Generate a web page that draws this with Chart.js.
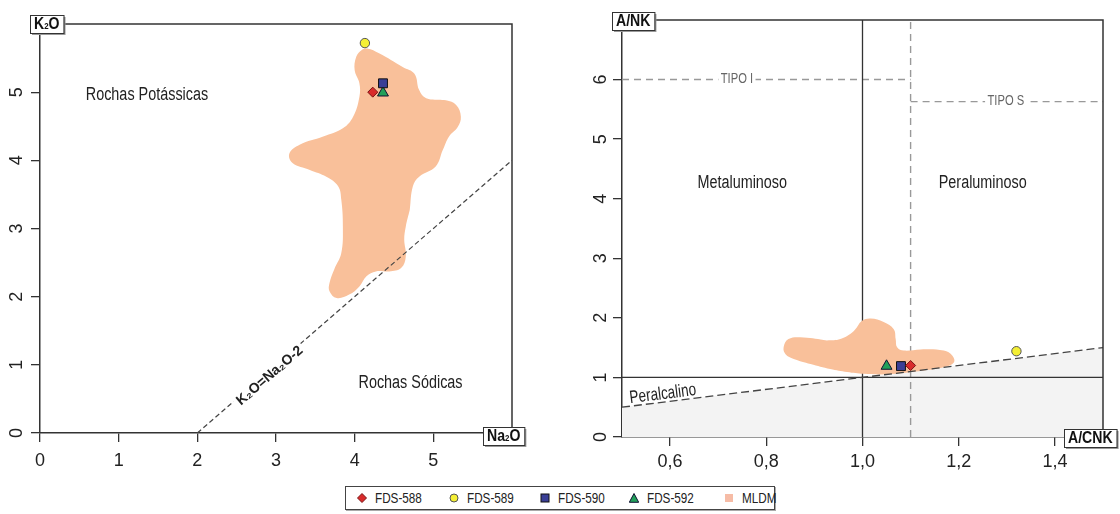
<!DOCTYPE html>
<html>
<head>
<meta charset="utf-8">
<script src="https://cdn.jsdelivr.net/npm/chart.js@4.4.0/dist/chart.umd.min.js"></script>
<style>
  body { margin: 0; background: #fff; width: 1120px; height: 514px; position: relative; overflow: hidden;
         font-family: 'Liberation Sans', Arial, sans-serif; }
  #left { position: absolute; left: 0; top: 0; }
  #right { position: absolute; left: 560px; top: 0; }
  #legend { position: absolute; left: 345px; top: 486px; width: 428px; height: 22px;
            border: 1px solid #444; box-shadow: 1px 1px 0 #aaa; background: #fff; }
  #legend .mk { position: absolute; top: 6px; width: 10px; height: 10px; }
  #legend .tx { position: absolute; top: 2px; font-size: 15px; line-height: 18px; color: #222;
                transform: scaleX(0.78); transform-origin: left center; white-space: nowrap; }
</style>
</head>
<body>
<canvas id="left" width="560" height="480"></canvas>
<canvas id="right" width="560" height="480"></canvas>
<div id="legend"></div>
<script>
// tick labels
const naTicks = [0, 1, 2, 3, 4, 5];
const kTicks = [0, 1, 2, 3, 4, 5];
const acnkTicks = [0.6, 0.8, 1.0, 1.2, 1.4];
const ankTicks = [0, 1, 2, 3, 4, 5, 6];

// samples
const sampleNames = ['FDS-588', 'FDS-589', 'FDS-590', 'FDS-592'];
const sampleNa = [4.23, 4.13, 4.36, 4.36];
const sampleK = [5.00, 5.72, 5.13, 4.99];
const sampleACNK = [1.10, 1.32, 1.08, 1.05];
const sampleANK = [1.20, 1.44, 1.19, 1.19];

// MLDM field (outline)
const mldmNa = [4.70, 4.65, 4.63, 4.65, 4.59, 4.44, 4.27, 4.15, 4.06, 3.93, 3.77, 3.68, 3.68, 3.74, 3.83, 3.85,
  3.83, 3.79, 3.64, 3.43, 3.21, 3.17, 3.30, 3.60, 3.85, 3.98, 4.06, 4.06, 4.00, 4.02, 4.09, 4.16, 4.31, 4.61,
  4.76, 4.82, 4.91, 5.16, 5.29, 5.35, 5.31, 5.20, 5.12, 5.03, 4.82, 4.74, 4.70];
const mldmK = [3.27, 3.03, 2.84, 2.59, 2.42, 2.37, 2.37, 2.30, 2.15, 2.03, 1.98, 2.08, 2.20, 2.40, 2.64, 3.03,
  3.42, 3.62, 3.76, 3.86, 3.96, 4.10, 4.23, 4.35, 4.47, 4.64, 4.93, 5.13, 5.32, 5.52, 5.62, 5.64, 5.57, 5.37,
  5.27, 5.03, 4.91, 4.88, 4.81, 4.64, 4.49, 4.35, 4.15, 3.91, 3.76, 3.62, 3.27];
const mldmACNK = [0.926, 0.954, 0.982, 0.999, 1.017, 1.044, 1.065, 1.069, 1.072, 1.086, 1.121, 1.169, 1.187,
  1.190, 1.169, 1.121, 1.051, 1.003, 0.968, 0.933, 0.892, 0.857, 0.840, 0.836, 0.846, 0.878, 0.926];
const mldmANK = [1.62, 1.645, 1.78, 1.95, 1.99, 1.93, 1.81, 1.645, 1.506, 1.45, 1.47, 1.45, 1.365,
  1.25, 1.17, 1.11, 1.055, 1.06, 1.09, 1.14, 1.225, 1.31, 1.39, 1.506, 1.645, 1.67, 1.62];

// K2O = Na2O - 2
const sodicNa = [2, 6];
const sodicK = [0, 4];

// A/NK = A/CNK (peralcalino limit)
const peralkX = [0.5, 1.5];
const peralkY = [0.5, 1.5];
// other limits
const metaX = [1.0, 1.0], metaY = [0, 7];
const ankOneX = [0.5, 1.5], ankOneY = [1, 1];
const typeX = [1.1, 1.1], typeY = [0, 7];
const tipoIX = [0.5, 1.1], tipoIY = [6, 6];
const tipoSX = [1.1, 1.5], tipoSY = [5.63, 5.63];

const FONT = "'Liberation Sans', Arial, sans-serif";
const TICKFONT = "'Liberation Sans Narrow', 'Liberation Sans', Arial, sans-serif";
const SX = 0.8;
const mldmColor = '#f9c09a';
const markers = [
  { style: 'rectRot', r: 5, fill: '#d92b2b', edge: '#7a1414' },
  { style: 'circle', r: 4.7, fill: '#f4ef35', edge: '#555' },
  { style: 'rect', r: 6.3, fill: '#3a3f96', edge: '#111' },
  { style: 'triangle', r: 6.3, fill: '#22a05a', edge: '#113' }
];

Chart.defaults.font.family = FONT;

function pts(xs, ys) {
  return xs.map(function (x, i) { return { x: x, y: ys[i] }; });
}

function lineSet(xs, ys, color, width, dash, order) {
  return {
    type: 'line', data: pts(xs, ys), borderColor: color, borderWidth: width,
    borderDash: dash || [], pointRadius: 0, fill: false, tension: 0, order: order
  };
}

function blobSet(xs, ys) {
  return {
    type: 'line', label: 'MLDM', data: pts(xs, ys), backgroundColor: mldmColor,
    borderWidth: 0, pointRadius: 0, fill: 'shape', tension: 0.4, order: 2
  };
}

function sampleSets(xs, ys) {
  return sampleNames.map(function (name, i) {
    const m = markers[i];
    return {
      label: name, data: [{ x: xs[i], y: ys[i] }], pointStyle: m.style, pointRadius: m.r,
      backgroundColor: m.fill, borderColor: m.edge, borderWidth: 1, order: 0
    };
  });
}

function axis(min, max, ticks, fmt, fit, pad, vertical) {
  const o = {
    type: 'linear', min: min, max: max, z: 1,
    afterBuildTicks: function (s) { s.ticks = ticks.map(function (v) { return { value: v }; }); },
    afterFit: function (s) { if (vertical) s.width = fit; else s.height = fit; },
    ticks: { font: { family: TICKFONT, size: 18 }, color: '#222', padding: pad, callback: fmt },
    grid: { drawOnChartArea: false, drawTicks: true, tickLength: 9, color: '#333', lineWidth: 1.3 },
    border: { display: true, color: '#333', width: 1.5 }
  };
  if (vertical) {
    o.ticks.minRotation = 90;
    o.ticks.maxRotation = 90;
    o.ticks.crossAlign = 'center';
  }
  return o;
}

// boxed axis names, e.g. K2O with a small 2
function drawTag(ctx, parts, x, y) {
  const h = 18, sx = 0.88;
  ctx.save();
  let w = 0;
  parts.forEach(function (p) {
    ctx.font = p.sub ? 'bold 9px ' + FONT : 'bold 16px ' + FONT;
    p.w = ctx.measureText(p.t).width * sx;
    w += p.w;
  });
  const bw = w + 8;
  ctx.fillStyle = '#999';
  ctx.fillRect(x + 2, y + 2, bw, h);
  ctx.fillStyle = '#fff';
  ctx.fillRect(x, y, bw, h);
  ctx.strokeStyle = '#333';
  ctx.lineWidth = 1;
  ctx.strokeRect(x + 0.5, y + 0.5, bw, h);
  let cx = x + 4;
  parts.forEach(function (p) {
    ctx.save();
    ctx.translate(cx, y + h - 4);
    ctx.scale(sx, 1);
    ctx.font = p.sub ? 'bold 9px ' + FONT : 'bold 16px ' + FONT;
    ctx.fillStyle = '#111';
    ctx.textBaseline = 'alphabetic';
    ctx.fillText(p.t, 0, 0);
    ctx.restore();
    cx += p.w;
  });
  ctx.restore();
}

function decor(cfg) {
  return {
    id: 'decor',
    afterDatasetsDraw: function (chart) {
      const ctx = chart.ctx, xs = chart.scales.x, ys = chart.scales.y;
      cfg.labels.forEach(function (l) {
        let rot = 0;
        if (l.along) {
          const a = l.along;
          rot = Math.atan2(ys.getPixelForValue(a[3]) - ys.getPixelForValue(a[1]),
            xs.getPixelForValue(a[2]) - xs.getPixelForValue(a[0]));
        }
        ctx.save();
        ctx.translate(xs.getPixelForValue(l.x), ys.getPixelForValue(l.y));
        ctx.rotate(rot);
        ctx.scale(l.sx, 1);
        ctx.font = l.font;
        ctx.textAlign = 'center';
        ctx.textBaseline = 'middle';
        if (l.bg) {
          const w = ctx.measureText(l.text).width;
          ctx.fillStyle = '#fff';
          ctx.fillRect(-w / 2 - 3, -l.bg / 2, w + 6, l.bg);
        }
        ctx.fillStyle = l.color;
        ctx.fillText(l.text, 0, 0);
        ctx.restore();
      });
    },
    afterDraw: function (chart) {
      const ctx = chart.ctx, a = chart.chartArea;
      ctx.save();
      ctx.strokeStyle = '#333';
      ctx.lineWidth = 1.5;
      ctx.beginPath();
      ctx.moveTo(a.left, a.top);
      ctx.lineTo(a.right, a.top);
      ctx.lineTo(a.right, a.bottom);
      ctx.stroke();
      ctx.restore();
      cfg.tags.forEach(function (t) {
        const x = (t.at === 'tl' ? a.left : a.right) + t.dx;
        const y = (t.at === 'tl' ? a.top : a.bottom) + t.dy;
        drawTag(ctx, t.parts, x, y);
      });
    }
  };
}

const common = {
  responsive: false, animation: false, events: [],
  plugins: { legend: { display: false }, tooltip: { enabled: false } }
};

// left: K2O x Na2O
new Chart(document.getElementById('left'), {
  type: 'scatter',
  data: {
    datasets: sampleSets(sampleNa, sampleK).concat([
      lineSet(sodicNa, sodicK, '#444', 1.2, [5, 3], 1),
      blobSet(mldmNa, mldmK)
    ])
  },
  options: Object.assign({}, common, {
    layout: { padding: { left: 0, top: 24, right: 48, bottom: 0 } },
    scales: {
      x: axis(0, 6, naTicks, function (v) { return String(v); }, 47, 8, false),
      y: axis(0, 6, kTicks, function (v) { return String(v); }, 40, 9, true)
    }
  }),
  plugins: [decor({
    labels: [
      { text: 'Rochas Potássicas', x: 1.36, y: 4.96, font: '18px ' + FONT, sx: SX, color: '#222' },
      { text: 'Rochas Sódicas', x: 4.71, y: 0.74, font: '18px ' + FONT, sx: SX, color: '#222' },
      { text: 'K₂O=Na₂O-2', x: 2.92, y: 0.84, along: [2, 0, 6, 4], font: 'bold 14px ' + FONT, sx: 1, color: '#222', bg: 15 }
    ],
    tags: [
      { at: 'tl', dx: -10, dy: -9, parts: [{ t: 'K' }, { t: '2', sub: true }, { t: 'O' }] },
      { at: 'br', dx: -29, dy: -6, parts: [{ t: 'Na' }, { t: '2', sub: true }, { t: 'O' }] }
    ]
  })]
});

// right: A/NK x A/CNK
new Chart(document.getElementById('right'), {
  type: 'scatter',
  data: {
    datasets: sampleSets(sampleACNK, sampleANK).concat([
      lineSet(peralkX, peralkY, '#444', 1.3, [8, 4], 1),
      blobSet(mldmACNK, mldmANK),
      lineSet(metaX, metaY, '#333', 1.3, null, 3),
      lineSet(ankOneX, ankOneY, '#333', 1.3, null, 3),
      lineSet(typeX, typeY, '#999', 1.4, [7, 5], 3),
      lineSet(tipoIX, tipoIY, '#999', 1.4, [7, 5], 3),
      lineSet(tipoSX, tipoSY, '#999', 1.4, [7, 5], 3),
      {
        type: 'line', data: pts(peralkX, peralkY), borderWidth: 0, pointRadius: 0,
        backgroundColor: '#f3f3f3', fill: 'origin', order: 4
      }
    ])
  },
  options: Object.assign({}, common, {
    layout: { padding: { left: 0, top: 20, right: 17, bottom: 0 } },
    scales: {
      x: axis(0.5, 1.5, acnkTicks, function (v) { return v.toFixed(1).replace('.', ','); }, 43, 5, false),
      y: axis(0, 7, ankTicks, function (v) { return String(v); }, 62, 7, true)
    }
  }),
  plugins: [decor({
    labels: [
      { text: 'TIPO I', x: 0.739, y: 6, font: '14px ' + FONT, sx: SX, color: '#666', bg: 12 },
      { text: 'TIPO S', x: 1.298, y: 5.63, font: '14px ' + FONT, sx: SX, color: '#666', bg: 12 },
      { text: 'Metaluminoso', x: 0.75, y: 4.26, font: '18px ' + FONT, sx: SX, color: '#222' },
      { text: 'Peraluminoso', x: 1.25, y: 4.26, font: '18px ' + FONT, sx: SX, color: '#222' },
      { text: 'Peralcalino', x: 0.585, y: 0.72, along: [0.5, 0.5, 1.5, 1.5], font: '18px ' + FONT, sx: 0.75, color: '#222' }
    ],
    tags: [
      { at: 'tl', dx: -10, dy: -8, parts: [{ t: 'A/NK' }] },
      { at: 'br', dx: -39, dy: -8, parts: [{ t: 'A/CNK' }] }
    ]
  })]
});

// legend
const legendX = [16, 108, 199, 288, 383];
const svgMarks = [
  '<polygon points="5,0.5 9.5,5 5,9.5 0.5,5" fill="#d92b2b" stroke="#7a1414"/>',
  '<circle cx="5" cy="5" r="4" fill="#f4ef35" stroke="#555"/>',
  '<rect x="1" y="1" width="8" height="8" fill="#3a3f96" stroke="#111"/>',
  '<polygon points="5,0.5 9.7,9.3 0.3,9.3" fill="#22a05a" stroke="#113"/>',
  '<rect x="1" y="1" width="8" height="8" fill="#f6bca6"/>'
];
const legendNames = sampleNames.concat(['MLDM']);
const legend = document.getElementById('legend');
legendNames.forEach(function (name, i) {
  legend.insertAdjacentHTML('beforeend',
    '<svg class="mk" style="left:' + (legendX[i] - 5) + 'px" viewBox="0 0 10 10">' + svgMarks[i] + '</svg>' +
    '<span class="tx" style="left:' + (legendX[i] + 13) + 'px">' + name + '</span>');
});
</script>
</body>
</html>
